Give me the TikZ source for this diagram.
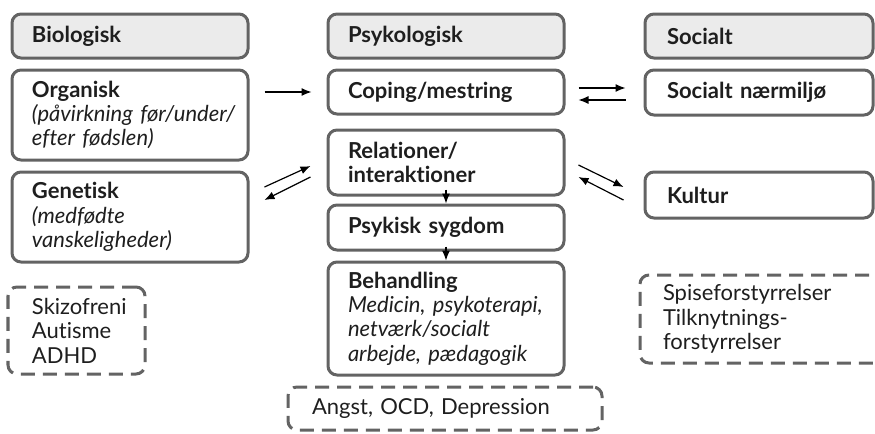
\documentclass[tikz,border=0pt]{standalone}
\usepackage{fontspec}
\setmainfont{Lato}[Ligatures=NoCommon]
\usetikzlibrary{arrows.meta, calc}
\newcommand{\boxfont}{\fontsize{11}{12.2}\selectfont}

\begin{document}
\begin{tikzpicture}[x=0.5pt, y=-0.5pt,
		box/.style={draw=boxgray, line width=1.5pt, rounded corners=4.5pt, text=textgray, align=left, inner xsep=10pt, text width=98pt, font=\boxfont},
		rbox/.style={box, inner xsep=11pt, text width=92pt},
		head/.style={fill=headgray, minimum height=22pt, font=\boxfont\bfseries},
		dbox/.style={draw=boxgray, line width=1.5pt, rounded corners=4.5pt, dash pattern=on 7pt off 4pt, text=textgray, align=left, inner xsep=12pt, font=\boxfont},
		arr/.style={-{Latex[length=5pt,width=4pt]}, line width=0.6pt, black},
	]
		\definecolor{boxgray}{HTML}{636363}
		\definecolor{headgray}{HTML}{EBEBEB}
		\definecolor{textgray}{HTML}{1E1E1E}
		\useasboundingbox (0,0) rectangle (875,434);
		\clip (0,0) rectangle (875,434);

		% Biologisk
		\node[box, head] (bio) at (130,36) {Biologisk};
		\node[box, minimum height=45pt] (org) at (130,115) {\textbf{Organisk}\\ \textit{(påvirkning~før/under/}\\ \textit{efter fødslen)}};
		\node[box, minimum height=45pt] (gen) at (130,217) {\textbf{Genetisk}\\ \textit{(medfødte}\\ \textit{vanskeligheder)}};
		\node[dbox, text width=44.5pt, minimum height=43.5pt] (skiz) at (76.5,330.5) {Skizofreni\\ Autisme\\ ADHD};

		% Psykologisk
		\node[box, head] (psy) at (446,36) {Psykologisk};
		\node[box, head, fill=none] (cop) at (446,92) {Coping/mestring};
		\node[box, minimum height=32.5pt] (rel) at (446,162.5) {\textbf{Relationer/}\\ \textbf{interaktioner}};
		\node[box, head, fill=none, minimum height=22.5pt] (syg) at (446,227.5) {Psykisk sygdom};
		\node[box, minimum height=56.5pt] (beh) at (446,318.5) {\textbf{Behandling}\\ \textit{Medicin,~psykoterapi,}\\ \textit{netværk/socialt}\\ \textit{arbejde,~pædagogik}};
		\node[dbox, text width=133pt, minimum height=21.5pt] (angst) at (445,408.5) {Angst, OCD, Depression};

		% Socialt
		\node[rbox, head] (soc) at (759,36) {Socialt};
		\node[rbox, head, fill=none, minimum height=22.5pt] (naer) at (759,92.5) {Socialt~nærmiljø};
		\node[rbox, head, fill=none, minimum height=23pt] (kul) at (759,195) {Kultur};
		\node[dbox, text width=107pt, inner xsep=11.5pt, minimum height=44pt] (spise) at (770,319) {Spiseforstyrrelser\\ Tilknytnings-\\ forstyrrelser};

		\draw[arr] ($(org.east |- cop.west)+(15,0)$) -- ($(cop.west)+(-15,0)$);
		\draw[arr] ($(cop.east)+(13,-4)$) -- ($(naer.west)+(-18,-4.5)$);
		\draw[arr] ($(naer.west)+(-18,7.5)$) -- ($(cop.east)+(13,8)$);
		\draw[arr] ($(gen.east)+(15,-30)$) -- ($(rel.west)+(-16,3.5)$);
		\draw[arr] ($(rel.west)+(-16,14.5)$) -- ($(gen.east)+(15,-17)$);
		\draw[arr] ($(rel.east)+(13,2.5)$) -- ($(kul.west)+(-20,-8)$);
		\draw[arr] ($(kul.west)+(-20,5)$) -- ($(rel.east)+(13,14.5)$);
		\draw[arr] ($(rel.south)+(0,-7)$) -- (syg.north);
		\draw[arr] ($(syg.south)+(0,-5)$) -- (beh.north);
	\end{tikzpicture}
\end{document}
